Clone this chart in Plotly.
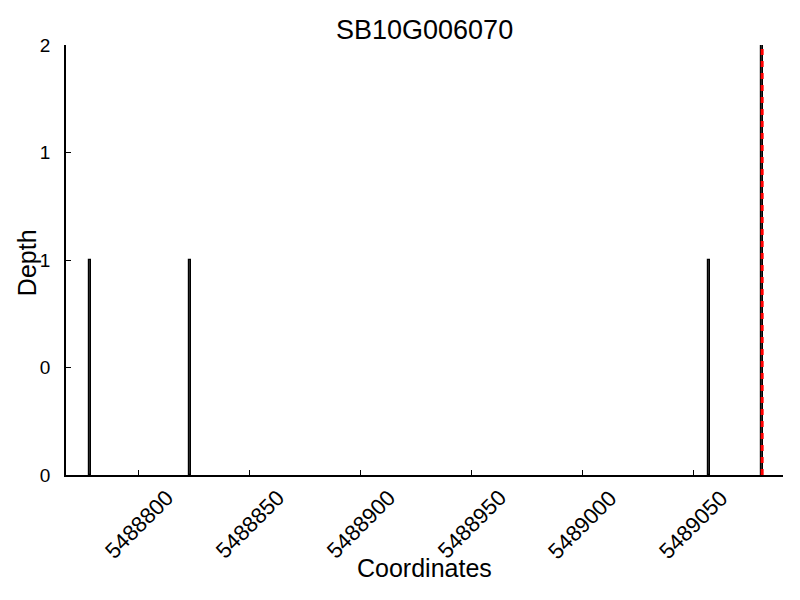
import plotly.graph_objects as go

title = "SB10G006070"
coords = [5488778, 5488823, 5489057, 5489081]
depths = [1, 1, 1, 2]
marker_pos = [5489081]
marker_top = [2]
x_range = [5488767.2, 5489090.4]
x_ticks = [5488800, 5488850, 5488900, 5488950, 5489000, 5489050]
y_ticks = [0, 0.5, 1, 1.5, 2]
y_ticktext = ["0", "0", "1", "1", "2"]
x_title = "Coordinates"
y_title = "Depth"

fig = go.Figure()
fig.add_trace(go.Bar(
    x=coords, y=depths, width=1,
    marker=dict(color="#333333", line=dict(color="black", width=1.2)),
    showlegend=False,
))
fig.add_trace(go.Scatter(
    x=marker_pos * 2, y=[0] + marker_top, mode="lines",
    line=dict(color="red", width=3, dash="6px,6px"),
    showlegend=False,
))

font = "Liberation Sans, Arial, Helvetica, sans-serif"
# page body has an 8px margin, so the figure is offset by 8px
fig.update_layout(
    width=800, height=600,
    plot_bgcolor="white", paper_bgcolor="white",
    margin=dict(l=58, r=25, t=37, b=133, autoexpand=False),
    font=dict(family=font, color="black"),
    bargap=0,
)
fig.update_xaxes(
    range=x_range, tickvals=x_ticks, showticklabels=False,
    ticks="inside", ticklen=5, tickcolor="black", automargin=False,
    showline=True, linecolor="black", linewidth=1.5, showgrid=False, zeroline=False,
)
fig.update_yaxes(
    range=[0, 2], tickvals=y_ticks, ticktext=y_ticktext, automargin=False,
    ticks="inside", ticklen=5, tickcolor="black", ticklabelstandoff=10,
    showline=True, linecolor="black", linewidth=1.5, showgrid=False, zeroline=False,
    tickfont=dict(size=19, family=font, color="black"),
)
for t in x_ticks:
    fig.add_annotation(
        x=t, xref="x", y=0, yref="paper", yshift=-7,
        text=str(t), showarrow=False, textangle=-45,
        xanchor="center", yanchor="top",
        font=dict(size=22, family=font, color="black"),
    )
fig.add_annotation(
    x=0.5, xref="paper", y=-0.216, yref="paper", text=x_title, showarrow=False,
    xanchor="center", yanchor="middle", font=dict(size=25, family=font, color="black"),
)
fig.add_annotation(
    x=-0.0544, xref="paper", y=0.495, yref="paper", text=y_title, showarrow=False,
    textangle=-90, xanchor="center", yanchor="middle",
    font=dict(size=25, family=font, color="black"),
)
fig.add_annotation(
    x=0.5, xref="paper", y=1.0 + 15 / 430, yref="paper", text=title, showarrow=False,
    xanchor="center", yanchor="middle", font=dict(size=27, family=font, color="black"),
)
fig.write_html("out.html")
